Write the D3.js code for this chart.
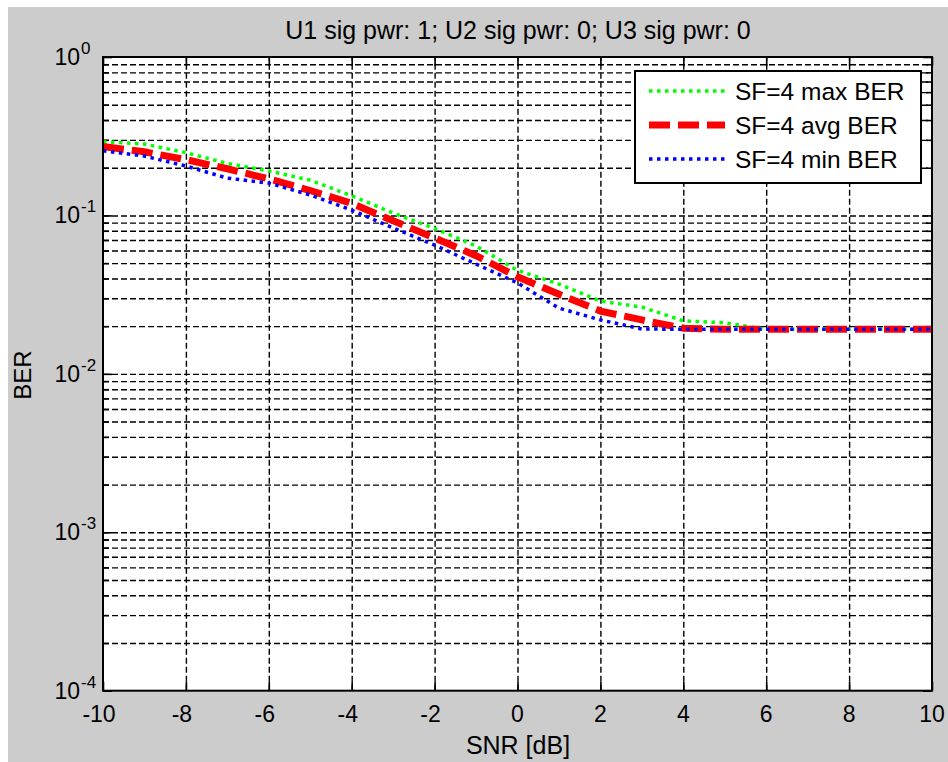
<!DOCTYPE html>
<html>
<head>
<meta charset="utf-8">
<script src="https://cdn.jsdelivr.net/npm/d3@7"></script>
<style>
  body { margin: 0; background: #ffffff; }
  svg { display: block; font-family: "Liberation Sans", Arial, sans-serif; }
</style>
</head>
<body>
<svg id="chart" width="948" height="762"></svg>
<script>
// ---------- data ----------
const snr = [-10, -9, -8, -7, -6, -5, -4, -3, -2, -1, 0, 1, 2, 3, 4, 5, 6, 7, 8, 9, 10];
const berMax = [0.292, 0.282, 0.249, 0.213, 0.191, 0.167, 0.133, 0.1035, 0.0827, 0.0641, 0.045, 0.0369, 0.0288, 0.0264, 0.0216, 0.021, 0.0191, 0.0191, 0.0191, 0.0191, 0.0191];
const berAvg = [0.272, 0.252, 0.225, 0.197, 0.170, 0.1436, 0.119, 0.0925, 0.0721, 0.0557, 0.041, 0.0318, 0.0249, 0.0219, 0.0194, 0.0191, 0.0191, 0.0191, 0.0191, 0.0191, 0.0191];
const berMin = [0.256, 0.237, 0.205, 0.172, 0.160, 0.1346, 0.108, 0.0833, 0.065, 0.0493, 0.0375, 0.026, 0.0219, 0.0192, 0.0191, 0.0191, 0.0191, 0.0191, 0.0191, 0.0191, 0.0191];
const seriesNames = ["SF=4 max BER", "SF=4 avg BER", "SF=4 min BER"];
const xTicks = [-10, -8, -6, -4, -2, 0, 2, 4, 6, 8, 10];
const yMajorExp = [0, -1, -2, -3, -4];
const titleText = "U1 sig pwr: 1; U2 sig pwr: 0; U3 sig pwr: 0";
const xLabel = "SNR [dB]";
const yLabel = "BER";

// ---------- layout ----------
const L = 103, R = 932, T = 57, B = 690.7;
const svg = d3.select("#chart");

svg.append("rect").attr("x", 8).attr("y", 7).attr("width", 940).attr("height", 755).attr("fill", "#cccccc");

const x = d3.scaleLinear().domain([-10, 10]).range([L, R]);
const y = d3.scaleLog().domain([1e-4, 1]).range([B, T]);

svg.append("rect").attr("x", L).attr("y", T).attr("width", R - L).attr("height", B - T).attr("fill", "#ffffff");

const yMajor = yMajorExp.map(e => Math.pow(10, e));
const yMinor = [];
for (let e = -4; e < 0; e++) for (let k = 2; k <= 9; k++) yMinor.push(k * Math.pow(10, e));

// grid
const gridStyle = g => {
  g.select(".domain").remove();
  g.selectAll("text").remove();
  g.selectAll("line").attr("stroke", "#000").attr("stroke-width", 1.4).attr("stroke-dasharray", "6,3");
};
svg.append("g").attr("transform", `translate(0,${B})`)
  .call(d3.axisBottom(x).tickValues(xTicks.slice(1, -1)).tickSize(-(B - T)).tickFormat(""))
  .call(gridStyle);
svg.append("g").attr("transform", `translate(${L},0)`)
  .call(d3.axisLeft(y).tickValues(yMajor.concat(yMinor).filter(v => v < 1 && v > 1e-4)).tickSize(-(R - L)).tickFormat(""))
  .call(gridStyle);

// ticks (inward, on all sides)
const tickStyle = g => {
  g.select(".domain").remove();
  g.selectAll("line").attr("stroke", "#000").attr("stroke-width", 1.6);
};
svg.append("g").attr("transform", `translate(0,${B})`).call(d3.axisBottom(x).tickValues(xTicks).tickSize(-9).tickFormat("")).call(tickStyle);
svg.append("g").attr("transform", `translate(0,${T})`).call(d3.axisTop(x).tickValues(xTicks).tickSize(-9).tickFormat("")).call(tickStyle);
svg.append("g").attr("transform", `translate(${L},0)`).call(d3.axisLeft(y).tickValues(yMajor).tickSize(-9).tickFormat("")).call(tickStyle);
svg.append("g").attr("transform", `translate(${L},0)`).call(d3.axisLeft(y).tickValues(yMinor).tickSize(-6).tickFormat("")).call(tickStyle);
svg.append("g").attr("transform", `translate(${R},0)`).call(d3.axisRight(y).tickValues(yMajor).tickSize(-9).tickFormat("")).call(tickStyle);
svg.append("g").attr("transform", `translate(${R},0)`).call(d3.axisRight(y).tickValues(yMinor).tickSize(-6).tickFormat("")).call(tickStyle);

// x tick labels
svg.append("g").selectAll("text").data(xTicks).join("text")
  .attr("x", d => x(d) - (d < 0 ? 4 : 0)).attr("y", 722)
  .attr("text-anchor", "middle").attr("font-size", 23).attr("fill", "#000")
  .text(d => d);

// y tick labels with superscript
const yl = svg.append("g").selectAll("g").data(yMajorExp).join("g");
yl.append("text").attr("x", 80).attr("y", d => y(Math.pow(10, d)) + 8)
  .attr("text-anchor", "end").attr("font-size", 23).attr("fill", "#000").text("10");
yl.append("text").attr("x", 81).attr("y", d => y(Math.pow(10, d)) - 3)
  .attr("text-anchor", "start").attr("font-size", 17).attr("fill", "#000").text(d => d);

// lines
const line = vals => d3.line().x((d, i) => x(snr[i])).y(d => y(d))(vals);
const styles = [
  { color: "#00ff00", width: 3.5, dash: "3.5,4.5", data: berMax },
  { color: "#ff0000", width: 7, dash: "21,8", data: berAvg },
  { color: "#0000ff", width: 3.5, dash: "3.5,4.5", data: berMin }
];
const plot = svg.append("g");
styles.forEach(s => {
  plot.append("path").attr("d", line(s.data)).attr("fill", "none")
    .attr("stroke", s.color).attr("stroke-width", s.width).attr("stroke-dasharray", s.dash);
});

// axes box
svg.append("rect").attr("x", L).attr("y", T).attr("width", R - L).attr("height", B - T)
  .attr("fill", "none").attr("stroke", "#000").attr("stroke-width", 2);

// legend
const lg = svg.append("g");
lg.append("rect").attr("x", 635).attr("y", 71).attr("width", 286).attr("height", 112)
  .attr("fill", "#fff").attr("stroke", "#000").attr("stroke-width", 2);
styles.forEach((s, i) => {
  const cy = 91 + i * 34;
  lg.append("line").attr("x1", 649).attr("x2", 725).attr("y1", cy).attr("y2", cy)
    .attr("stroke", s.color).attr("stroke-width", s.width).attr("stroke-dasharray", s.dash);
  lg.append("text").attr("x", 735).attr("y", cy + 9).attr("font-size", 24.5).attr("fill", "#000").text(seriesNames[i]);
});

// title and labels
svg.append("text").attr("x", 518).attr("y", 39).attr("text-anchor", "middle").attr("font-size", 25).attr("fill", "#000").text(titleText);
svg.append("text").attr("x", 518).attr("y", 754).attr("text-anchor", "middle").attr("font-size", 25).attr("fill", "#000").text(xLabel);
svg.append("text").attr("transform", "translate(31,375) rotate(-90)").attr("text-anchor", "middle").attr("font-size", 24).attr("fill", "#000").text(yLabel);
</script>
</body>
</html>
